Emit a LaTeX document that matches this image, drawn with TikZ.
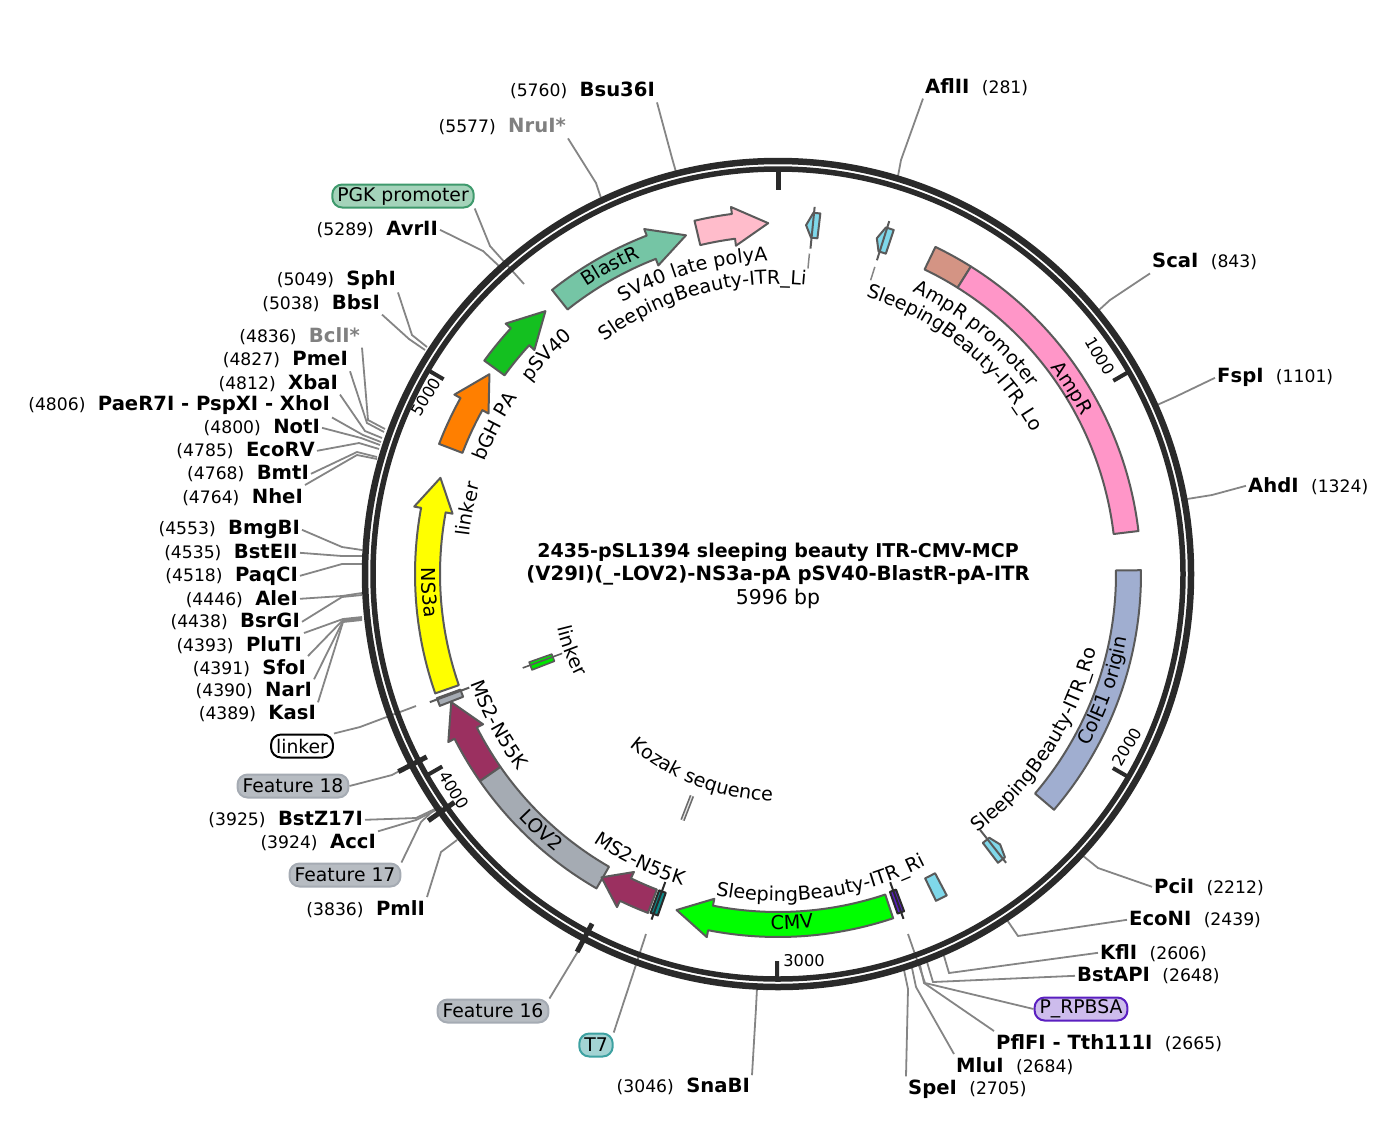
\documentclass[tikz,border=0pt]{standalone}
\usepackage{fontspec}
\setmainfont{DejaVu Sans}
\usetikzlibrary{decorations.text}
\catcode`\_=12

\definecolor{ringdark}{HTML}{2A2A2A}
\definecolor{linkgrey}{HTML}{858585}
\definecolor{featedge}{HTML}{5A5A5A}
\definecolor{blastcol}{HTML}{75C5A5}
\definecolor{polyacol}{HTML}{FFBCCB}
\definecolor{psvcol}{HTML}{14C020}
\definecolor{bghcol}{HTML}{FF7F00}
\definecolor{nscol}{HTML}{FFFF00}
\definecolor{cmvcol}{HTML}{00FF00}
\definecolor{ms2col}{HTML}{9B3060}
\definecolor{lovcol}{HTML}{A5ABB3}
\definecolor{colecol}{HTML}{A0AED0}
\definecolor{ampcol}{HTML}{FF96C8}
\definecolor{ampprocol}{HTML}{D49484}
\definecolor{itrcol}{HTML}{7FD8EA}
\definecolor{tealcol}{HTML}{0D8A8A}
\definecolor{purpcol}{HTML}{5A1FC0}
\definecolor{pgkedge}{HTML}{3F9A6D}
\definecolor{pgkfill}{HTML}{A4D3BA}

\newcommand{\numfont}{\fontsize{17.2}{20}\selectfont}
\newcommand{\namefont}{\fontsize{19.6}{22}\selectfont\bfseries}
\newcommand{\featfont}{\fontsize{18.8}{21}\selectfont}
\newcommand{\arcfont}{\fontsize{19.2}{21}\selectfont}

\tikzset{
  sitel/.style={anchor=east,inner xsep=2pt,inner ysep=3pt,yshift=-0.8pt,font=\numfont},
  siter/.style={anchor=west,inner xsep=2pt,inner ysep=3pt,yshift=-0.8pt,font=\numfont},
  conn/.style={draw=linkgrey,line width=1.8pt},
  feat/.style={draw=featedge,line width=2pt,line join=round},
  hair/.style={draw=featedge,line width=2pt},
  pill/.style={rounded corners=10pt,line width=2pt,inner xsep=5pt,inner ysep=0pt,minimum height=23pt,font=\featfont},
  ticknum/.style={inner sep=0pt,font=\fontsize{16.2}{19}\selectfont},
  titlenode/.style={inner sep=0pt,yshift=-1.2pt,font=\fontsize{19}{23}\selectfont\bfseries}
}

% one enzyme site: link from label through a knee to the ring
\newcommand{\sitelink}[4]{%
  \coordinate (#1k) at #3;
  \coordinate (#1r) at #4;
  \draw[conn] (#1.#2) -- (#1k) -- (#1r);}
% arrow on the main track: tail, neck, tip angle, colour
\newcommand{\featarrow}[4]{%
  \draw[feat,fill=#4] (#1:363) arc[start angle=#1,end angle=#2,radius=363] -- (#2:370) -- (#3:351)
    -- (#2:331) -- (#2:338) arc[start angle=#2,end angle=#1,radius=338] -- cycle;}
% plain band: from angle, to angle, colour
\newcommand{\featband}[3]{%
  \draw[feat,fill=#3] (#1:363) arc[start angle=#1,end angle=#2,radius=363]
    -- (#2:338) arc[start angle=#2,end angle=#1,radius=338] -- cycle;}
% small ITR piece: tail, neck, tip angle
\newcommand{\featsmall}[3]{%
  \draw[feat,fill=itrcol] (#1:363) -- (#2:363) -- (#3:350) -- (#2:338) -- (#1:338) -- cycle;}
% curved texts: radius, middle angle, text
\newcommand{\arccw}[3]{%
  \path[decorate,decoration={text along path,text align=center,text={|\arcfont|#3}}]
    (#2+75:#1) arc[start angle=#2+75,end angle=#2-75,radius=#1];}
\newcommand{\arcccw}[3]{%
  \path[decorate,decoration={text along path,text align=center,text={|\arcfont|#3}}]
    (#2-75:#1) arc[start angle=#2-75,end angle=#2+75,radius=#1];}

\begin{document}
\begin{tikzpicture}[x=1pt,y=-1pt]
  \useasboundingbox (0,0) rectangle (1400,1120);

  % site labels, left side and top
  \node[sitel] (BsuI) at (657,90) {(5760)\hspace{.72em}{\namefont Bsu36I}};
  \node[sitel] (NruI) at (568,126) {(5577)\hspace{.72em}{\namefont\color{gray} NruI*}};
  \node[sitel] (AvrI) at (440,229) {(5289)\hspace{.72em}{\namefont AvrII}};
  \node[sitel] (SphI) at (398,279) {(5049)\hspace{.72em}{\namefont SphI}};
  \node[sitel] (BbsI) at (382,302) {(5038)\hspace{.72em}{\namefont BbsI}};
  \node[sitel] (BclI) at (362,335) {(4836)\hspace{.72em}{\namefont\color{gray} BclI*}};
  \node[sitel] (PmeI) at (350,359) {(4827)\hspace{.72em}{\namefont PmeI}};
  \node[sitel] (XbaI) at (340,382) {(4812)\hspace{.72em}{\namefont XbaI}};
  \node[sitel] (XhoI) at (332,404) {(4806)\hspace{.72em}{\namefont PaeR7I - PspXI - XhoI}};
  \node[sitel] (NotI) at (322,427) {(4800)\hspace{.72em}{\namefont NotI}};
  \node[sitel] (EcoV) at (317,450) {(4785)\hspace{.72em}{\namefont EcoRV}};
  \node[sitel] (BmtI) at (311,473) {(4768)\hspace{.72em}{\namefont BmtI}};
  \node[sitel] (NheI) at (305,496) {(4764)\hspace{.72em}{\namefont NheI}};
  \node[sitel] (BmgI) at (302,529) {(4553)\hspace{.72em}{\namefont BmgBI}};
  \node[sitel] (BstE) at (300,552) {(4535)\hspace{.72em}{\namefont BstEII}};
  \node[sitel] (PaqI) at (300,575) {(4518)\hspace{.72em}{\namefont PaqCI}};
  \node[sitel] (AleI) at (300,598) {(4446)\hspace{.72em}{\namefont AleI}};
  \node[sitel] (BsrI) at (302,621) {(4438)\hspace{.72em}{\namefont BsrGI}};
  \node[sitel] (PluI) at (304,644) {(4393)\hspace{.72em}{\namefont PluTI}};
  \node[sitel] (SfoI) at (308,667) {(4391)\hspace{.72em}{\namefont SfoI}};
  \node[sitel] (NarI) at (314,690) {(4390)\hspace{.72em}{\namefont NarI}};
  \node[sitel] (KasI) at (318,713) {(4389)\hspace{.72em}{\namefont KasI}};
  \node[sitel] (BstZ) at (365,819) {(3925)\hspace{.72em}{\namefont BstZ17I}};
  \node[sitel] (AccI) at (378,842) {(3924)\hspace{.72em}{\namefont AccI}};
  \node[sitel] (PmlI) at (427,908) {(3836)\hspace{.72em}{\namefont PmlI}};
  \node[sitel] (SnaI) at (752,1086) {(3046)\hspace{.72em}{\namefont SnaBI}};

  % site labels, right side
  \node[siter] (AflI) at (923,86) {{\namefont AflII}\hspace{.72em}(281)};
  \node[siter] (ScaI) at (1150,261) {{\namefont ScaI}\hspace{.72em}(843)};
  \node[siter] (FspI) at (1215,377) {{\namefont FspI}\hspace{.72em}(1101)};
  \node[siter] (AhdI) at (1246,485) {{\namefont AhdI}\hspace{.72em}(1324)};
  \node[siter] (PciI) at (1152,886) {{\namefont PciI}\hspace{.72em}(2212)};
  \node[siter] (EcoN) at (1127,919) {{\namefont EcoNI}\hspace{.72em}(2439)};
  \node[siter] (KflI) at (1098,952) {{\namefont KflI}\hspace{.72em}(2606)};
  \node[siter] (BstA) at (1075,975) {{\namefont BstAPI}\hspace{.72em}(2648)};
  \node[siter] (Tth1) at (994,1042) {{\namefont PflFI - Tth111I}\hspace{.72em}(2665)};
  \node[siter] (MluI) at (954,1065) {{\namefont MluI}\hspace{.72em}(2684)};
  \node[siter] (SpeI) at (906,1088) {{\namefont SpeI}\hspace{.72em}(2705)};

  % feature pills
  \node[pill,draw=pgkedge,fill=pgkfill] (PGKp) at (403,196) {PGK promoter};
  \node[pill,draw=black,fill=white] (LinkP) at (302,746) {linker};
  \node[pill,draw=lovcol,fill=lovcol!80] (Feat18) at (293,786) {Feature 18};
  \node[pill,draw=lovcol,fill=lovcol!80] (Feat17) at (345,875) {Feature 17};
  \node[pill,draw=lovcol,fill=lovcol!80] (Feat16) at (493,1011) {Feature 16};
  \node[pill,draw=tealcol!80,fill=tealcol!38] (T7p) at (596,1045) {T7};
  \node[pill,draw=purpcol,fill=purpcol!30] (RPBp) at (1081,1009) {P_RPBSA};

  % links from labels to the ring
  \sitelink{BsuI}{south east}{(672,158)}{(676,172)}
  \sitelink{NruI}{south east}{(596,183)}{(601,198)}
  \sitelink{AvrI}{east}{(483,251)}{(499,266)}
  \sitelink{SphI}{south east}{(412,335)}{(427,347)}
  \sitelink{BbsI}{south east}{(409,339)}{(425,350)}
  \sitelink{BclI}{south east}{(368,420)}{(385,429)}
  \sitelink{PmeI}{south east}{(367,423)}{(384,432)}
  \sitelink{XbaI}{south east}{(365,431)}{(382,438)}
  \sitelink{XhoI}{south east}{(363,435)}{(381,442)}
  \sitelink{NotI}{east}{(361,438)}{(380,445)}
  \sitelink{EcoV}{east}{(359,443)}{(379,449)}
  \sitelink{BmtI}{east}{(357,452)}{(377,457)}
  \sitelink{NheI}{north east}{(357,455)}{(377,459)}
  \sitelink{BmgI}{east}{(342,547)}{(362,550)}
  \sitelink{BstE}{east}{(342,556)}{(362,556)}
  \sitelink{PaqI}{east}{(342,564)}{(362,564)}
  \sitelink{AleI}{east}{(342,596)}{(362,593)}
  \sitelink{BsrI}{east}{(342,597)}{(362,595)}
  \sitelink{PluI}{north east}{(343,619)}{(362,617)}
  \sitelink{SfoI}{north east}{(343,620)}{(362,618)}
  \sitelink{NarI}{north east}{(343,621)}{(362,619)}
  \sitelink{KasI}{north east}{(343,622)}{(362,620)}
  \sitelink{BstZ}{east}{(416,818)}{(437,808)}
  \sitelink{AccI}{north east}{(416,820)}{(442,807)}
  \sitelink{PmlI}{north east}{(441,852)}{(457,840)}
  \sitelink{SnaI}{north east}{(756,1008)}{(757,988)}
  \sitelink{AflI}{south west}{(901,160)}{(898,176)}
  \sitelink{ScaI}{south west}{(1110,300)}{(1099,310)}
  \sitelink{FspI}{west}{(1175,397)}{(1157,405)}
  \sitelink{AhdI}{west}{(1212,495)}{(1187,499)}
  \sitelink{PciI}{west}{(1098,868)}{(1082,855)}
  \sitelink{EcoN}{west}{(1018,936)}{(1007,920)}
  \sitelink{KflI}{west}{(949,973)}{(944,956)}
  \sitelink{BstA}{west}{(933,982)}{(927,962)}
  \sitelink{Tth1}{north west}{(924,983)}{(920,965)}
  \sitelink{MluI}{north west}{(916,987)}{(912,968)}
  \sitelink{SpeI}{north west}{(908,989)}{(904,970)}

  % links of the pills
  \sitelink{PGKp}{south east}{(490,246)}{(524,284)}
  \sitelink{LinkP}{north east}{(360,727)}{(416,706)}
  \sitelink{Feat18}{east}{(392,775)}{(403,769)}
  \sitelink{Feat17}{north east}{(421,822)}{(435,809)}
  \sitelink{Feat16}{north east}{(577,953)}{(585,938)}
  \sitelink{T7p}{north east}{(631,980)}{(646,934)}
  \sitelink{RPBp}{west}{(925,983)}{(908,934)}

  % everything below is centred on the ring
  \begin{scope}[shift={(778,574)},x=1pt,y=1pt]
    % ring
    \draw[ringdark,line width=6.5pt,line join=round] (0,0) circle[radius=413];
    \draw[ringdark,line width=5.5pt,line join=round] (0,0) circle[radius=405];

    % ticks every 1000 bp
    \draw[ringdark,line width=5pt] (90:405) -- (90:384);
    \foreach \bp in {1000,2000,3000,4000,5000} {
      \draw[ringdark,line width=4pt] ({90-\bp*0.06004}:405) -- ({90-\bp*0.06004}:387);
    }

    % short bars across the ring
    \draw[ringdark,line width=5pt] (207.5:396) -- (207.5:428);
    \draw[ringdark,line width=5pt] (215.2:396) -- (215.2:428);
    \draw[ringdark,line width=5pt] (242:396) -- (242:428);

    % main track
    \featarrow{128.5}{111.2}{105.2}{blastcol}
    \featarrow{103.3}{97.3}{91.6}{polyacol}
    \featarrow{144}{137.4}{131.5}{psvcol}
    \featarrow{159}{151}{145.3}{bghcol}
    \featarrow{199.2}{169.5}{164.1}{nscol}
    \featarrow{214.8}{207}{201.4}{ms2col}
    \featband{214.8}{240}{lovcol}
    \featarrow{249}{244.2}{239.8}{ms2col}
    \featarrow{288.5}{258.9}{253.2}{cmvcol}
    \featband{64.3}{57.9}{ampprocol}
    \featband{57.9}{6.8}{ampcol}
    \featband{0.6}{-40.5}{colecol}

    % small pieces
    \featband{295.8}{297.7}{itrcol}
    \featsmall{83.3}{84.4}{85.4}
    \featsmall{71.4}{72.7}{73.6}
    \featsmall{-52.7}{-51.3}{-50.6}
    \draw[hair] (84.3:327) -- (84.3:369);
    \draw[conn,line width=1.5pt] (84.4:322) -- (84.4:307);
    \draw[hair] (72.5:329) -- (72.5:370);
    \draw[conn,line width=1.5pt] (72.5:322) -- (72.5:308);
    \draw[hair] (-51.7:326) -- (-51.7:368);
    \draw[feat,fill=lovcol] (200:363) -- (201.3:363) -- (201.3:338) -- (200:338) -- cycle;
    \draw[hair] (200.2:329) -- (200.2:371);
    \draw[feat,draw=ringdark,fill=tealcol] (249.4:362) -- (250.6:362) -- (250.6:338) -- (249.4:338) -- cycle;
    \draw[hair,draw=ringdark] (249.9:328) -- (249.9:368);
    \draw[feat,draw=ringdark,fill=purpcol] (289.4:360) -- (290.5:360) -- (290.5:337) -- (289.4:337) -- cycle;
    \draw[hair,draw=ringdark] (290:328) -- (290:367);
    \draw[feat,fill=cmvcol!90!black,line width=1.6pt] (199.5:264) -- (201.3:264) -- (201.3:240) -- (199.5:240) -- cycle;
    \draw[hair,line width=1.6pt] (200.2:230) -- (200.2:272);
    \draw[featedge!90,line width=4.5pt] (248.8:238) -- (248.8:264);
    \draw[white!80!gray,line width=1.2pt] (248.8:238) -- (248.8:264);

    % curved feature names
    \arccw{345}{118.6}{BlastR}
    \arccw{313}{105.8}{SV40 late polyA}
    \arccw{290}{105.6}{SleepingBeauty-ITR_Li}
    \arccw{313}{136.6}{pSV40}
    \arccw{314}{152.5}{bGH PA}
    \arccw{311}{168.2}{linker}
    \arcccw{356}{183.1}{NS3a}
    \arcccw{326}{208.3}{MS2-N55K}
    \arcccw{356}{227.3}{LOV2}
    \arcccw{326}{244.2}{MS2-N55K}
    \arcccw{355}{272.3}{CMV}
    \arcccw{327}{278}{SleepingBeauty-ITR_Ri}
    \arcccw{327}{-32.8}{SleepingBeauty-ITR_Ro}
    \arcccw{355}{-19.7}{ColE1 origin}
    \arccw{342}{32.3}{AmpR}
    \arccw{313}{50.5}{AmpR promoter}
    \arccw{291}{50.7}{SleepingBeauty-ITR_Lo}
    \arcccw{227}{249}{Kozak sequence}
    \arcccw{227}{200.3}{linker}
  \end{scope}

  % tick numbers
  \node[ticknum,rotate=-60] (tick1) at (1100,356) {1000};
  \node[ticknum,rotate=60] (tick2) at (1127,747) {2000};
  \node[ticknum] (tick3) at (804,961) {3000};
  \node[ticknum,rotate=-60] (tick4) at (454,790) {4000};
  \node[ticknum,rotate=60] (tick5) at (426,397) {5000};

  % title in the middle
  \node[titlenode] (title1) at (778,551) {2435-pSL1394 sleeping beauty ITR-CMV-MCP};
  \node[titlenode,font=\fontsize{19.7}{23}\selectfont\bfseries] (title2) at (778,574) {(V29I)(_-LOV2)-NS3a-pA pSV40-BlastR-pA-ITR};
  \node[titlenode,font=\fontsize{20.4}{24}\selectfont] (title3) at (778,598) {5996 bp};
\end{tikzpicture}
\end{document}
